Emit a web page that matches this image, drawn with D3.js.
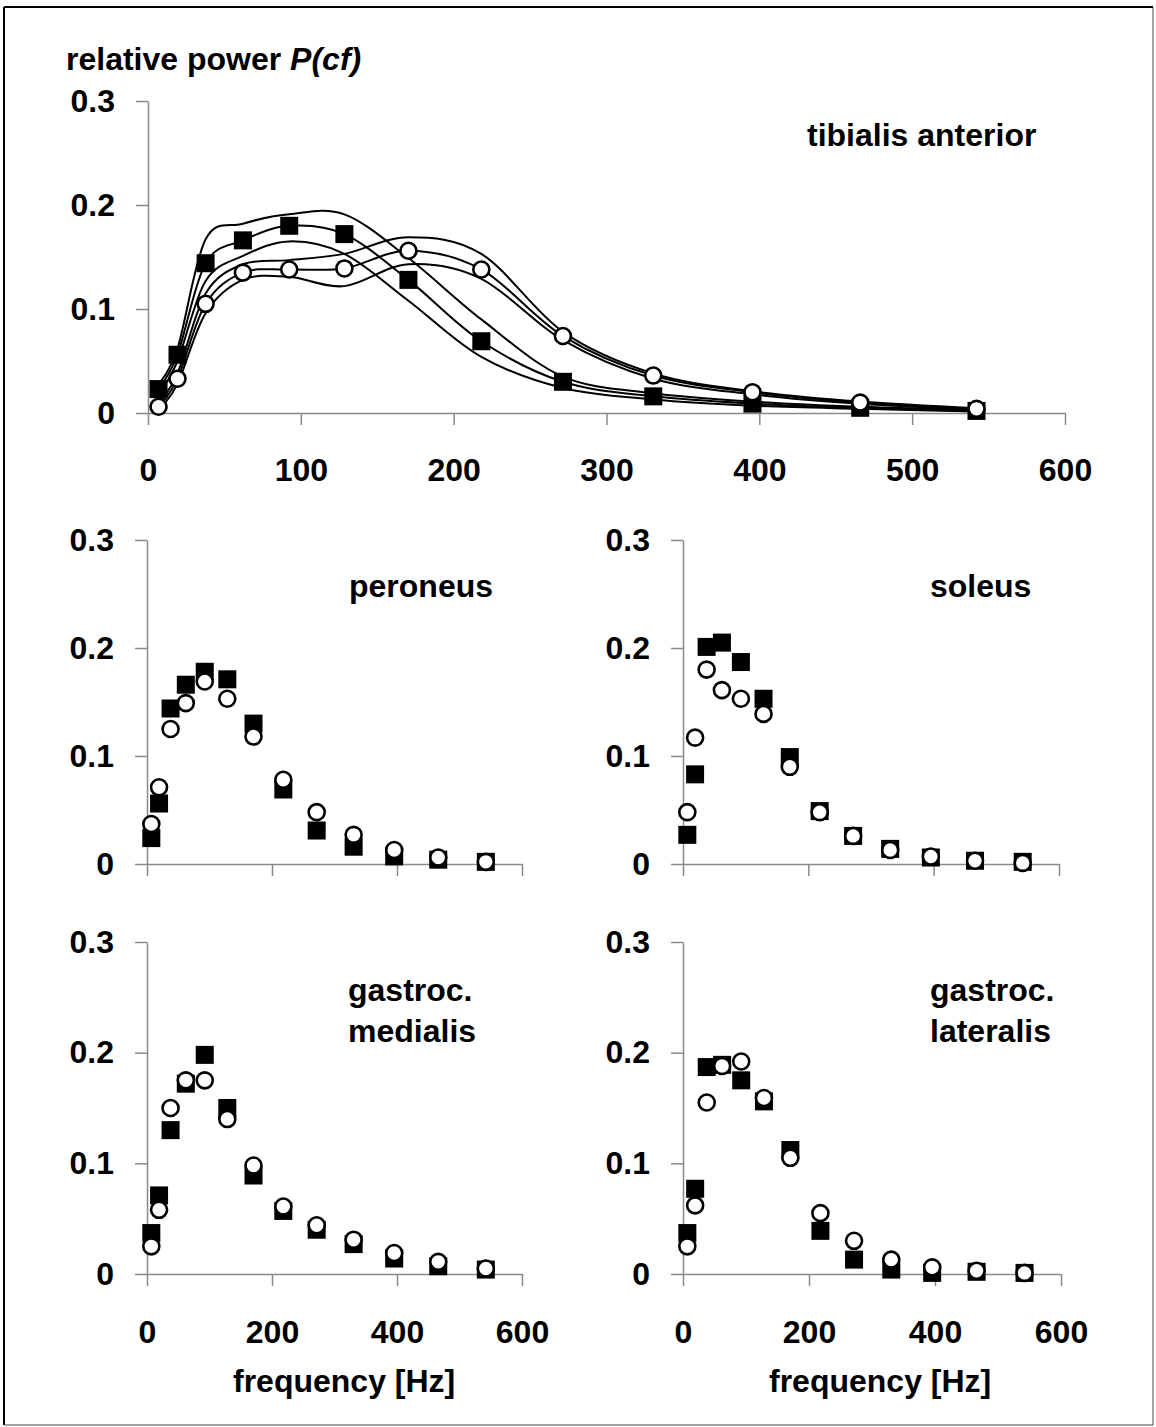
<!DOCTYPE html>
<html>
<head>
<meta charset="utf-8">
<script src="https://cdn.jsdelivr.net/npm/d3@7"></script>
<style>
  html, body { margin: 0; padding: 0; background: #ffffff; }
  svg { display: block; }
  text { font-family: "Liberation Sans", Arial, sans-serif; font-weight: bold; fill: #000; }
</style>
</head>
<body>
<svg id="chart" width="1156" height="1427"></svg>
<script>
// ---- data ----
const centerFreqs = [6.9, 19.3, 37.7, 62.1, 92.4, 128.5, 170.4, 218.1, 271.5, 330.6, 395.5, 466.0, 542.1];
const yTicks = [0, 0.1, 0.2, 0.3];
const xTicksTop = [0, 100, 200, 300, 400, 500, 600];
const xTicksPanel = [0, 200, 400, 600];

// tibialis anterior: mean and mean +/- SD curves
const taSquareMean  = [0.023, 0.056, 0.144, 0.166, 0.180, 0.172, 0.128, 0.069, 0.030, 0.016, 0.009, 0.005, 0.002];
const taSquareUpper = [0.028, 0.062, 0.167, 0.182, 0.191, 0.191, 0.149, 0.090, 0.035, 0.019, 0.011, 0.006, 0.003];
const taSquareLower = [0.018, 0.050, 0.127, 0.151, 0.165, 0.153, 0.108, 0.054, 0.024, 0.013, 0.007, 0.004, 0.0015];
const taCircleMean  = [0.006, 0.033, 0.105, 0.135, 0.138, 0.139, 0.156, 0.138, 0.074, 0.036, 0.020, 0.010, 0.004];
const taCircleUpper = [0.009, 0.038, 0.115, 0.143, 0.147, 0.153, 0.169, 0.153, 0.078, 0.038, 0.021, 0.011, 0.0045];
const taCircleLower = [0.003, 0.028, 0.096, 0.128, 0.131, 0.122, 0.143, 0.129, 0.070, 0.033, 0.018, 0.009, 0.0035];

// peroneus
const peSquare = [0.024, 0.056, 0.144, 0.166, 0.178, 0.171, 0.130, 0.069, 0.031, 0.016, 0.007, 0.004, 0.002];
const peCircle = [0.037, 0.071, 0.125, 0.149, 0.169, 0.153, 0.118, 0.078, 0.048, 0.027, 0.013, 0.006, 0.002];
// soleus
const soSquare = [0.027, 0.083, 0.201, 0.205, 0.187, 0.153, 0.099, 0.049, 0.026, 0.014, 0.006, 0.003, 0.002];
const soCircle = [0.048, 0.117, 0.180, 0.161, 0.153, 0.139, 0.090, 0.048, 0.026, 0.013, 0.007, 0.003, 0.001];
// gastrocnemius medialis
const gmSquare = [0.037, 0.071, 0.130, 0.172, 0.198, 0.150, 0.089, 0.057, 0.040, 0.027, 0.014, 0.007, 0.004];
const gmCircle = [0.025, 0.058, 0.150, 0.175, 0.175, 0.140, 0.098, 0.061, 0.044, 0.031, 0.019, 0.011, 0.005];
// gastrocnemius lateralis
const glSquare = [0.037, 0.077, 0.187, 0.189, 0.175, 0.156, 0.112, 0.039, 0.013, 0.004, 0.001, 0.002, 0.001];
const glCircle = [0.025, 0.062, 0.155, 0.188, 0.192, 0.159, 0.105, 0.055, 0.030, 0.013, 0.006, 0.003, 0.001];

// ---- drawing ----
const svg = d3.select("#chart");
const FS = 32;
const AXIS_COLOR = "#8a8a8a";

// outer frame
svg.append("line").attr("x1", 4).attr("y1", 7).attr("x2", 4).attr("y2", 1425).attr("stroke", "#000").attr("stroke-width", 2);
svg.append("line").attr("x1", 4).attr("y1", 7).attr("x2", 1153).attr("y2", 7).attr("stroke", "#000").attr("stroke-width", 2);
svg.append("line").attr("x1", 1153).attr("y1", 7).attr("x2", 1153).attr("y2", 1425).attr("stroke", "#444").attr("stroke-width", 1);
svg.append("line").attr("x1", 4).attr("y1", 1425).attr("x2", 1153).attr("y2", 1425).attr("stroke", "#444").attr("stroke-width", 1);

function zip(xs, ys) { return xs.map((x, i) => [x, ys[i]]); }

function drawAxes(g, x, y, xTicks, showXLabels, xPad) {
  const ya = g.append("g")
    .attr("transform", `translate(${x.range()[0]},0)`)
    .call(d3.axisLeft(y).tickValues(yTicks).tickFormat(d => d === 0 ? "0" : d3.format(".1f")(d))
      .tickSize(12).tickSizeOuter(0).tickPadding(21));
  const xa = g.append("g")
    .attr("transform", `translate(0,${y(0)})`)
    .call(d3.axisBottom(x).tickValues(xTicks).tickFormat(showXLabels ? d3.format("d") : () => "")
      .tickSize(12).tickSizeOuter(0).tickPadding(xPad));
  [ya, xa].forEach(a => {
    a.select(".domain").attr("stroke", AXIS_COLOR).attr("stroke-width", 1.5);
    a.selectAll(".tick line").attr("stroke", AXIS_COLOR).attr("stroke-width", 1.5);
    a.selectAll(".tick text").attr("font-size", FS).attr("font-family", "Liberation Sans, Arial, sans-serif")
      .attr("font-weight", "bold").attr("fill", "#000");
  });
}

function drawSquares(g, x, y, vals) {
  const s = 18;
  g.append("g").selectAll("rect").data(zip(centerFreqs, vals)).join("rect")
    .attr("x", d => x(d[0]) - s / 2).attr("y", d => y(d[1]) - s / 2)
    .attr("width", s).attr("height", s).attr("fill", "#000");
}
function drawCircles(g, x, y, vals) {
  g.append("g").selectAll("circle").data(zip(centerFreqs, vals)).join("circle")
    .attr("cx", d => x(d[0])).attr("cy", d => y(d[1])).attr("r", 8)
    .attr("fill", "#fff").attr("stroke", "#000").attr("stroke-width", 2.6);
}
function addText(lines, x, y0, dy) {
  lines.forEach((t, i) => {
    svg.append("text").attr("x", x).attr("y", y0 + i * dy).attr("font-size", FS).text(t);
  });
}

// --- top panel: tibialis anterior ---
{
  const x = d3.scaleLinear().domain([0, 600]).range([148, 1065]);
  const y = d3.scaleLinear().domain([0, 0.3]).range([413, 101]);
  const g = svg.append("g");
  drawAxes(g, x, y, xTicksTop, true, 33);
  const line = d3.line().x(d => x(d[0])).y(d => y(d[1])).curve(d3.curveCardinal.tension(0));
  [taSquareUpper, taSquareLower, taCircleUpper, taCircleLower, taSquareMean, taCircleMean].forEach(vals => {
    g.append("path").attr("d", line(zip(centerFreqs, vals)))
      .attr("fill", "none").attr("stroke", "#000").attr("stroke-width", 2);
  });
  drawSquares(g, x, y, taSquareMean);
  drawCircles(g, x, y, taCircleMean);

  const t = svg.append("text").attr("x", 66).attr("y", 70).attr("font-size", FS);
  t.append("tspan").text("relative power ");
  t.append("tspan").attr("font-style", "italic").text("P(cf)");
  addText(["tibialis anterior"], 807, 146, 0);
}

// --- scatter panels ---
const panels = [
  { sq: peSquare, ci: peCircle, xr: [147, 522], yr: [864, 540], labels: false, title: ["peroneus"], tx: 349, ty: 597 },
  { sq: soSquare, ci: soCircle, xr: [683, 1059], yr: [864, 540], labels: false, title: ["soleus"], tx: 930, ty: 597 },
  { sq: gmSquare, ci: gmCircle, xr: [147, 522], yr: [1274, 942], labels: true, title: ["gastroc.", "medialis"], tx: 348, ty: 1001 },
  { sq: glSquare, ci: glCircle, xr: [683, 1061], yr: [1274, 942], labels: true, title: ["gastroc.", "lateralis"], tx: 930, ty: 1001 }
];
panels.forEach(p => {
  const x = d3.scaleLinear().domain([0, 600]).range(p.xr);
  const y = d3.scaleLinear().domain([0, 0.3]).range(p.yr);
  const g = svg.append("g");
  drawAxes(g, x, y, xTicksPanel, p.labels, 34);
  drawSquares(g, x, y, p.sq);
  drawCircles(g, x, y, p.ci);
  addText(p.title, p.tx, p.ty, 41);
  if (p.labels) {
    svg.append("text").attr("x", p.xr[0] + 86).attr("y", 1392).attr("font-size", FS).text("frequency [Hz]");
  }
});
</script>
</body>
</html>
